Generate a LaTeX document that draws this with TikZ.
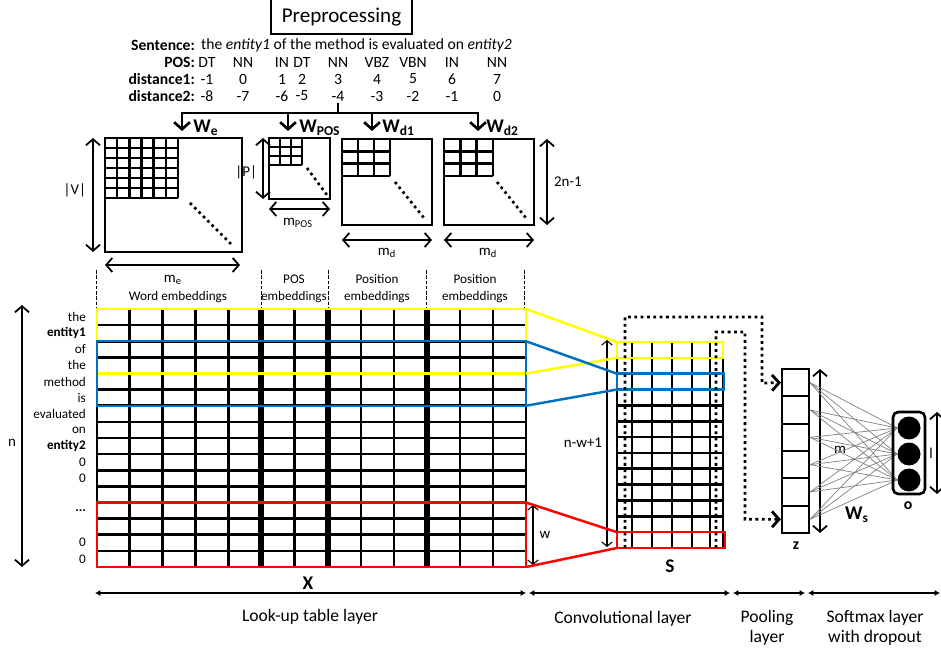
\documentclass[tikz,border=0pt]{standalone}
\usepackage{fontspec}
\setmainfont{Carlito}
\usetikzlibrary{arrows.meta, positioning}
\definecolor{winyellow}{RGB}{255,255,0}
\definecolor{winblue}{RGB}{0,112,192}
\definecolor{winred}{RGB}{255,0,0}
\tikzset{
>={Straight Barb[length=3.5pt,width=8pt]}, % open arrow heads
cell/.style={line width=1.5pt}, % grid lines of the matrices
thicksep/.style={line width=3pt}, % separates the embedding blocks
mat/.style={draw, line width=1.5pt, inner sep=0pt},
diagdots/.style={dotted, line width=1.5pt},
dim/.style={<->, line width=1pt},
thindim/.style={<->, line width=0.6pt, >={Straight Barb[length=2.5pt,width=6pt]}},
feed/.style={->, line width=1.5pt, >={Straight Barb[length=4pt,width=9pt]}},
pool/.style={->, dotted, line width=1.6pt, >={Straight Barb[length=4pt,width=9pt]}},
win/.style={line width=1.4pt},
wire/.style={gray, line width=0.4pt},
span/.style={{Latex[length=3pt,width=3.5pt]}-{Latex[length=3pt,width=3.5pt]}, line width=0.8pt},
sepline/.style={dash pattern=on 2pt off 1pt, line width=0.5pt},
small/.style={font=\fontsize{7.5}{9.6}\selectfont, inner sep=1pt, align=center},
rowtxt/.style={font=\fontsize{8.9}{10.5}\selectfont, inner sep=1pt},
rowhead/.style={font=\fontsize{8.9}{10.5}\selectfont\bfseries, inner sep=1pt, anchor=east},
dimtxt/.style={font=\fontsize{8.5}{10}\selectfont, inner sep=1pt},
wlabel/.style={font=\fontsize{11}{13}\selectfont\bfseries, inner sep=0pt, anchor=west},
layertxt/.style={font=\fontsize{10}{11.4}\selectfont, align=center, inner sep=0pt},
}
\begin{document}
\begin{tikzpicture}[x=0.02cm, y=-0.02cm]
  \useasboundingbox (0,0) rectangle (941,655);

  % preprocessing (box runs past the top edge)
  \node[font=\fontsize{12}{14}\selectfont] (prep) at (341.5,17) {Preprocessing};
  \draw[line width=0.6pt] (271,-5) |- (412,34) -- (412,-5);
  \node[rowhead] (sent) at (197,45) {Sentence:};
  \node[rowtxt, anchor=west] (words) at (199,45) {the \textit{entity1} of the method is evaluated on \textit{entity2}};
  \node[rowhead] (poslab) at (197,62) {POS:};
  \node[rowhead] (dalab) at (197,79) {distance1:};
  \node[rowhead] (dblab) at (197,96) {distance2:};
  \foreach \x/\p/\a/\b [count=\i] in {207/DT/-1/-8, 243/NN/0/-7, 282/IN/1/-6, 302/DT/2/-5,
      338/NN/3/-4, 377/VBZ/4/-3, 413/VBN/5/-2, 452/IN/6/-1, 497/NN/7/0} {
    \node[rowtxt] (pos\i) at (\x,62) {\p};
    \node[rowtxt] (da\i) at (\x,79) {\a};
    \node[rowtxt] (db\i) at (\x,96) {\b};
  }

  % feeding the four tables
  \coordinate (split) at (338,113);
  \coordinate (fe) at (182,131);
  \coordinate (fpos) at (288,131);
  \coordinate (fd1) at (372,131);
  \coordinate (fd2) at (478,131);
  \draw[line width=1.5pt] (db5.south) -- (split);
  \foreach \t in {fe,fpos,fd1,fd2}
    \draw[feed] (split) -| (\t);
  \node[wlabel] (We-lab) at (193,128) {W\textsubscript{e}};
  \node[wlabel] (Wpos-lab) at (299,128) {W\textsubscript{POS}};
  \node[wlabel] (Wd1-lab) at (382,128) {W\textsubscript{d1}};
  \node[wlabel] (Wd2-lab) at (486,128) {W\textsubscript{d2}};

  % embedding tables
  \node[mat, minimum width=2.74cm, minimum height=2.28cm] (We) at (173.5,195) {};
  \node[mat, minimum width=1.22cm, minimum height=1.22cm] (Wpos) at (299.5,168.5) {};
  \node[mat, minimum width=1.8cm, minimum height=1.72cm] (Wd1) at (387,182) {};
  \node[mat, minimum width=1.8cm, minimum height=1.72cm] (Wd2) at (489,182) {};
  \foreach \i in {0,...,6} {
    \draw[cell] (105+\i*12.17,138) -- (105+\i*12.17,198);
    \draw[cell] (105,138+\i*10) -- (178,138+\i*10);
  }
  \foreach \i in {0,...,3} {
    \draw[cell] (269+\i*11,138) -- (269+\i*11,165);
    \draw[cell] (269,138+\i*9) -- (302,138+\i*9);
    \draw[cell] (342+\i*16,139) -- (342+\i*16,176);
    \draw[cell] (342,139+\i*12.33) -- (390,139+\i*12.33);
    \draw[cell] (444+\i*16.33,139) -- (444+\i*16.33,176);
    \draw[cell] (444,139+\i*12.33) -- (493,139+\i*12.33);
  }
  \draw[diagdots] (190,203) -- (232,245);
  \draw[diagdots] (307,168) -- (327,195);
  \draw[diagdots] (395,182) -- (424,218);
  \draw[diagdots] (497,182) -- (526,218);

  % sizes of the tables
  \draw[dim] (93,138) -- (93,252);
  \node[dimtxt, anchor=east] (V) at (88,190) {|V|};
  \draw[dim] (105,265) -- (240,265);
  \node[dimtxt] (me) at (173,280) {m\textsubscript{e}};
  \draw[dim] (263,138) -- (263,199);
  \node[dimtxt, anchor=east] (P) at (259,172) {|P|};
  \draw[dim] (269,209) -- (330,209);
  \node[dimtxt] (mpos) at (298,223) {m\textsubscript{POS}};
  \draw[dim] (342,240) -- (432,240);
  \node[dimtxt] (md1) at (387,253) {m\textsubscript{d}};
  \draw[dim] (444,240) -- (534,240);
  \node[dimtxt] (md2) at (488,253) {m\textsubscript{d}};
  \draw[dim] (547,139) -- (547,225);
  \node[dimtxt, anchor=west] (twon) at (552,182) {2n-1};

  % block titles
  \foreach \x in {96,261,328,426,524}
    \draw[sepline] (\x,270) -- (\x,308);
  \node[small] (wemb) at (178,297) {Word embeddings};
  \node[small] (pemb) at (294,289) {POS\\embeddings};
  \node[small] (d1emb) at (377,289) {Position\\embeddings};
  \node[small] (d2emb) at (475,289) {Position\\embeddings};

  % look-up table X
  \foreach \r in {0,...,16}
    \draw[cell] (97,309+\r*16.125) -- (526,309+\r*16.125);
  \foreach \c in {97,129.8,162.6,195.4,228.2,294.5,361,394,460,493,526}
    \draw[cell] (\c,309) -- (\c,567);
  \foreach \c in {261,328,427}
    \draw[thicksep] (\c,309) -- (\c,567);
  \foreach \w [count=\i from 0] in {the, \textbf{entity1}, of, the, method, is, evaluated, on,
      \textbf{entity2}, 0, 0, {}, \textbf{...}, {}, 0, 0}
    \node[small, anchor=east] (tok\i) at (88,317+\i*16.125) {\w};
  \draw[dim] (22,305) -- (22,567);
  \node[dimtxt] (n) at (12,443) {n};
  \node[font=\fontsize{11}{13}\selectfont\bfseries] (X) at (308,583) {X};

  % windows over X
  \draw[win, winyellow] (97,309) rectangle (526,373.5);
  \draw[win, winblue] (97,341.25) rectangle (526,405.75);
  \draw[win, winred] (97,502.5) rectangle (526,567);
  \draw[thindim] (533,505) -- (533,565);
  \node[dimtxt] (w) at (545,535) {w};

  % convolution output S
  \foreach \r in {0,...,13}
    \draw[cell] (617,342+\r*15.846) -- (723,342+\r*15.846);
  \foreach \c in {617,632,652,672,692,710,723}
    \draw[cell] (\c,342) -- (\c,548);
  \node[font=\fontsize{11}{13}\selectfont\bfseries] (S) at (670,566) {S};
  \draw[thindim] (607,340) -- (607,547);
  \node[dimtxt] (nw) at (583,443) {n-w+1};

  % windows over S and their sources
  \coordinate (xy1) at (526,309);   \coordinate (sy1) at (617,342);
  \coordinate (xy2) at (526,373.5); \coordinate (sy2) at (617,357.85);
  \coordinate (xb1) at (526,341.25); \coordinate (sb1) at (617,373.7);
  \coordinate (xb2) at (526,405.75); \coordinate (sb2) at (617,389.5);
  \coordinate (xr1) at (526,502.5); \coordinate (sr1) at (617,532.2);
  \coordinate (xr2) at (526,567);   \coordinate (sr2) at (617,548);
  \draw[win, winyellow] (617,342) rectangle (723,357.85);
  \draw[win, winyellow] (xy1) -- (sy1) (xy2) -- (sy2);
  \draw[win, winblue] (617,373.7) rectangle (724,389.5);
  \draw[win, winblue] (xb1) -- (sb1) (xb2) -- (sb2);
  \draw[win, winred] (617,532.2) rectangle (725,548);
  \draw[win, winred] (xr1) -- (sr1) (xr2) -- (sr2);

  % pooling z
  \foreach \i in {1,...,6}
    \node[draw, line width=1.2pt, minimum width=0.54cm, minimum height=0.5466cm, inner sep=0pt]
      (z\i) at (795.5,369+\i*27.33-13.67) {};
  \node[font=\fontsize{9}{11}\selectfont\bfseries] (zlab) at (796,546) {z};
  \draw[pool] (625,548) -- (625,317) -- (762,317) -- (762,383) -- (z1.west);
  \draw[pool] (716,548) -- (716,332) -- (745,332) -- (745,519.3) -- (z6.west);
  \draw[dim] (820,369) -- (820,533);
  \node[dimtxt] (m) at (840,450) {m};

  % softmax output o
  \foreach \i/\y in {1/428,2/454,3/480}
    \node[circle, fill=black, minimum size=0.46cm, inner sep=0pt] (o\i) at (909,\y) {};
  \foreach \i in {1,...,6}
    \foreach \j in {1,2,3}
      \draw[wire] (z\i.east) -- (o\j.west);
  \node[draw, line width=1.5pt, rounded corners=3pt, minimum width=0.64cm, minimum height=1.64cm] (o) at (909,453) {};
  \node[font=\fontsize{9}{11}\selectfont\bfseries] (olab) at (908,506) {o};
  \node[font=\fontsize{11}{13}\selectfont\bfseries] (Ws) at (857,515) {W\textsubscript{s}};
  \draw[dim] (937,412) -- (937,494);
  \node[dimtxt, inner sep=0pt] (l) at (931,453) {l};

  % layers
  \coordinate (a0) at (95,593);  \coordinate (a1) at (526,593);
  \coordinate (b0) at (529,593); \coordinate (b1) at (730,593);
  \coordinate (c0) at (733,593); \coordinate (c1) at (805,593);
  \coordinate (d0) at (808,593); \coordinate (d1) at (940,593);
  \draw[span] (a0) -- (a1);
  \draw[span] (b0) -- (b1);
  \draw[span] (c0) -- (c1);
  \draw[span] (d0) -- (d1);
  \node[layertxt] (lookup) at (310,617) {Look-up table layer};
  \node[layertxt] (conv) at (623,619) {Convolutional layer};
  \node[layertxt] (pooling) at (767,628) {Pooling\\layer};
  \node[layertxt] (softmax) at (875,628) {Softmax layer\\with dropout};
\end{tikzpicture}
\end{document}
